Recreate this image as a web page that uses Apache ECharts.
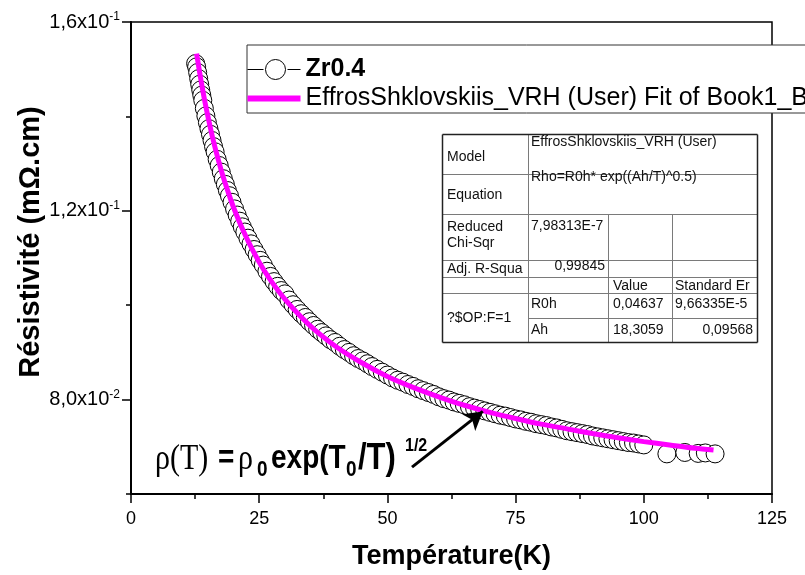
<!DOCTYPE html>
<html>
<head>
<meta charset="utf-8">
<script src="https://cdn.jsdelivr.net/npm/echarts@6/dist/echarts.min.js"></script>
<style>
html, body { margin: 0; padding: 0; background: #fff; }
#chart { width: 805px; height: 575px; }
</style>
</head>
<body>
<div id="chart"></div>
<script>
// Measured resistivity of the Zr0.4 sample
const temperature = [
  12.6, 12.8, 13.0, 13.2, 13.4, 13.6, 13.8, 14.0, 14.3, 14.6, 14.9, 15.2, 15.5, 15.8, 16.1, 16.4,
  16.8, 17.2, 17.6, 18.0, 18.4, 18.8, 19.2, 19.7, 20.2, 20.7, 21.2, 21.7, 22.2, 22.8, 23.4, 24.0,
  24.6, 25.2, 25.8, 26.5, 27.2, 27.9, 28.6, 29.3, 30.0, 30.8, 31.6, 32.4, 33.2, 34.0, 34.8, 35.6,
  36.4, 37.2, 38.0, 38.9, 39.8, 40.7, 41.6, 42.5, 43.4, 44.3, 45.2, 46.1, 47.0, 48.0, 49.0,
  50, 51, 52, 53, 54, 55, 56, 57, 58, 59, 60, 61, 62, 63, 64, 65, 66, 67, 68, 69, 70,
  71, 72, 73, 74, 75, 76, 77, 78, 79, 80, 81, 82, 83, 84, 85, 86, 87, 88, 89, 90,
  91, 92, 93, 94, 95, 96, 97, 98, 99, 100, 104.5, 108.0, 110.6, 112.0, 113.9
];
const resistivity = [
  0.1512, 0.1505, 0.1493, 0.1480, 0.1468, 0.1456, 0.1445, 0.1434, 0.1417, 0.1401, 0.1387, 0.1374, 0.1362, 0.1349, 0.1336, 0.1325,
  0.1309, 0.1296, 0.1282, 0.1268, 0.1256, 0.1243, 0.1232, 0.1218, 0.1204, 0.1191, 0.1178, 0.1166, 0.1155, 0.1142, 0.1130, 0.1118,
  0.1107, 0.1095, 0.1085, 0.1072, 0.1061, 0.1050, 0.1040, 0.1031, 0.1024, 0.1011, 0.1001, 0.0991, 0.0982, 0.0974, 0.0965, 0.0957,
  0.0949, 0.0942, 0.0935, 0.0927, 0.0921, 0.0913, 0.0906, 0.0900, 0.0893, 0.0887, 0.0882, 0.0876, 0.0870, 0.0864, 0.0858,
  0.0852, 0.0846, 0.0841, 0.0837, 0.0832, 0.0828, 0.0823, 0.0819, 0.0815, 0.0811, 0.0806, 0.0802, 0.0799, 0.0795, 0.0792, 0.0789, 0.0785, 0.0782, 0.0779, 0.0776, 0.0773,
  0.0770, 0.0767, 0.0765, 0.0762, 0.0759, 0.0757, 0.0754, 0.0752, 0.0749, 0.0747, 0.0745, 0.0742, 0.0740, 0.0737, 0.0734, 0.0732, 0.0730, 0.0728, 0.0726, 0.0723,
  0.0721, 0.0719, 0.0717, 0.0715, 0.0713, 0.0711, 0.0709, 0.0708, 0.0706, 0.0704, 0.0685, 0.0688, 0.0686, 0.0687, 0.0685
];

// Efros-Shklovskii VRH fit curve
const fitTemperature = [
  12.8, 13.0, 13.5, 14.0, 14.5, 15.0, 16.0, 17.0, 18.0, 19.0, 20.0, 22.0, 24.0, 26.0, 28.0, 30.0, 33.0,
  36.0, 40.0, 45.0, 50.0, 55.0, 60.0, 65.0, 70.0, 75.0, 80.0, 85.0, 90.0, 95.0, 100.0, 105.0, 110.0, 113.6
];
const fitResistivity = [
  0.1533, 0.1519, 0.1486, 0.1455, 0.1426, 0.1400, 0.1351, 0.1309, 0.1271, 0.1238, 0.1207, 0.1155, 0.1111, 0.1073, 0.1041, 0.1013, 0.0977,
  0.0946, 0.0912, 0.0878, 0.0849, 0.0826, 0.0806, 0.0788, 0.0773, 0.0760, 0.0748, 0.0738, 0.0728, 0.0719, 0.0711, 0.0704, 0.0697, 0.0693
];

const seriesNames = ['Zr0.4', 'EffrosShklovskiis_VRH (User) Fit of Book1_B'];

// Axis ticks
const xTickValues = [0, 25, 50, 75, 100, 125];
const yMajorTicks = [0.08, 0.12, 0.16];
const yMinorTicks = [0.06, 0.10, 0.14];
const yTickMantissa = ['8,0', '1,2', '1,6'];
const yTickExponent = ['-2', '-1', '-1'];

// Arrow pointing at the fitted curve (data coordinates)
const arrowFrom = [54.8, 0.0657];
const arrowTo = [68.6, 0.0775];

// Fit report table
const tableModel = 'EffrosShklovskiis_VRH (User)';
const tableEquation = 'Rho=R0h* exp((Ah/T)^0.5)';
const tableChiSqr = '7,98313E-7';
const tableAdjR2 = '0,99845';
const tableParams = [['R0h', '0,04637', '9,66335E-5'], ['Ah', '18,3059', '0,09568']];

const SANS = "'Liberation Sans', Arial, Helvetica, sans-serif";
const SERIF = "'Liberation Serif', 'Times New Roman', serif";

const chart = echarts.init(document.getElementById('chart'), null, { renderer: 'canvas' });

// Fit report drawn as a bordered table
function buildTable() {
  const x0 = 442.5, x1 = 528.5, x2 = 608.5, x3 = 672.5, xR = 757.5;
  const y0 = 134.5, r1 = 174.5, r2 = 214.5, r3 = 260.5, r4 = 277.5, r5 = 293.5, r6 = 318.5, yB = 342.5;
  const grey = '#7a7a7a';
  const children = [];
  const line = (ax, ay, bx, by, c, w) => children.push({
    type: 'line', shape: { x1: ax, y1: ay, x2: bx, y2: by }, style: { stroke: c || grey, lineWidth: w || 1 }
  });
  children.push({ type: 'rect', shape: { x: x0, y: y0, width: xR - x0, height: yB - y0 }, style: { fill: '#fff', stroke: null } });
  [r1, r2, r3, r4, r5].forEach(y => line(x0, y, xR, y));
  line(x1, r6, xR, r6);
  line(x1, y0, x1, yB);
  line(x2, r2, x2, yB);
  line(x3, r2, x3, yB);
  line(x0, y0, xR, y0, '#222', 1.5);
  line(x0, yB, xR, yB, '#222', 1.5);
  line(x0, y0, x0, yB, '#222', 1.5);
  line(xR, y0, xR, yB, '#222', 1.5);
  const txt = (s, x, y, align) => children.push({
    type: 'text', x: x, y: y,
    style: { text: s, font: '14px ' + SANS, fill: '#111', align: align || 'left', verticalAlign: 'middle' }
  });
  txt('Model', 447, 157);
  txt(tableModel, 531, 142);
  txt('Equation', 447, 195);
  txt(tableEquation, 531, 177);
  txt('Reduced', 447, 227);
  txt('Chi-Sqr', 447, 243);
  txt(tableChiSqr, 531, 226);
  txt('Adj. R-Squa', 447, 269);
  txt(tableAdjR2, 605, 266, 'right');
  txt('Value', 613, 286);
  txt('Standard Er', 675, 286);
  txt('?$OP:F=1', 447, 318);
  txt(tableParams[0][0], 531, 304);
  txt(tableParams[0][1], 613, 304);
  txt(tableParams[0][2], 675, 304);
  txt(tableParams[1][0], 531, 330);
  txt(tableParams[1][1], 613, 330);
  txt(tableParams[1][2], 753, 330, 'right');
  return { type: 'group', z: 50, children: children };
}

// Equation label rho(T) = rho0 exp(T0/T)^(1/2)
function buildFormula() {
  const base = 470;
  const part = (s, x, font, dy) => ({
    type: 'text', x: x, y: dy || 0,
    style: { text: s, font: font, fill: '#000', verticalAlign: 'bottom' }
  });
  return {
    type: 'group', z: 60, x: 0, y: base, scaleY: 1.2,
    children: [
      part('ρ(T)', 155, '30px ' + SERIF, 6),
      part('=', 218, 'bold 28px ' + SANS, 5),
      part('ρ', 238, '30px ' + SERIF, 6),
      part('0', 257, 'bold 19px ' + SANS, 9),
      part('exp(T', 271, 'bold 28px ' + SANS, 5),
      part('0', 346, 'bold 19px ' + SANS, 9),
      part('/T)', 358, 'bold 31px ' + SANS, 6),
      part('1/2', 405, 'bold 16px ' + SANS, -12)
    ]
  };
}

const option = {
  animation: false,
  backgroundColor: '#fff',
  textStyle: { fontFamily: SANS },
  grid: { left: 131, right: 33, top: 22, bottom: 78, show: true, borderColor: '#000', borderWidth: 1.5, backgroundColor: 'transparent' },
  legend: {
    orient: 'vertical', left: 247, top: 45, padding: [12, 10, 2, 0], itemGap: 4,
    itemWidth: 53, itemHeight: 20, selectedMode: false,
    borderColor: '#333', borderWidth: 1, backgroundColor: '#fff',
    textStyle: { fontSize: 25, color: '#000', fontFamily: SANS },
    data: [
      { name: seriesNames[0], icon: 'path://M0,10 L16,10 M18,10 A10,10 0 1 1 38,10 A10,10 0 1 1 18,10 M40,10 L53,10',
        itemStyle: { color: '#fff', borderColor: '#000', borderWidth: 1 }, textStyle: { fontWeight: 'bold' } },
      { name: seriesNames[1], icon: 'path://M0,0 M53,20 M0,7 L53,7 L53,13 L0,13 Z',
        itemStyle: { color: '#ff00ff', borderWidth: 0 } }
    ]
  },
  xAxis: {
    type: 'value', min: xTickValues[0], max: xTickValues[xTickValues.length - 1], interval: 25,
    name: 'Température(K)', nameLocation: 'middle', nameGap: 49,
    nameTextStyle: { fontSize: 27, fontWeight: 'bold', color: '#000', fontFamily: SANS },
    axisLine: { onZero: false, lineStyle: { color: '#000', width: 2 } },
    axisTick: { length: 9, lineStyle: { color: '#000', width: 1.5 } },
    minorTick: { show: true, splitNumber: 2, length: 5, lineStyle: { color: '#000', width: 1.5 } },
    axisLabel: { fontSize: 18, color: '#000', margin: 16, fontFamily: SANS },
    splitLine: { show: false }
  },
  yAxis: [
    {
      type: 'value', min: 0.06, max: 0.16, position: 'left',
      name: 'Résistivité (mΩ.cm)', nameLocation: 'middle', nameGap: 86, nameRotate: 90, nameMoveOverlap: false,
      nameTextStyle: { fontSize: 29, fontWeight: 'bold', color: '#000', fontFamily: SANS, padding: [0, 0, 0, 32] },
      axisLine: { onZero: false, lineStyle: { color: '#000', width: 2 } },
      axisTick: { length: 9, customValues: yMajorTicks, lineStyle: { color: '#000', width: 1.5 } },
      axisLabel: {
        customValues: yMajorTicks, margin: 11,
        formatter: function (v) {
          const i = yMajorTicks.findIndex(t => Math.abs(t - v) < 1e-9);
          return i < 0 ? '' : '{m|' + yTickMantissa[i] + 'x10}{e|' + yTickExponent[i] + '}';
        },
        rich: {
          m: { fontSize: 20, color: '#000', fontFamily: SANS, lineHeight: 22 },
          e: { fontSize: 12, color: '#000', fontFamily: SANS, verticalAlign: 'top', lineHeight: 12 }
        }
      },
      splitLine: { show: false }
    },
    {
      type: 'value', min: 0.06, max: 0.16, position: 'left',
      axisLine: { show: false },
      axisTick: { length: 5, customValues: yMinorTicks, lineStyle: { color: '#000', width: 1.5 } },
      axisLabel: { show: false },
      splitLine: { show: false }
    }
  ],
  graphic: [buildTable(), buildFormula()],
  series: [
    {
      name: seriesNames[0], type: 'scatter', z: 2,
      symbol: 'circle', symbolSize: 18,
      itemStyle: { color: '#fff', borderColor: '#000', borderWidth: 1, opacity: 1 },
      data: temperature.map((t, i) => [t, resistivity[i]])
    },
    {
      name: seriesNames[1], type: 'line', z: 3, color: '#ff00ff',
      symbol: 'none', smooth: 0.3,
      lineStyle: { color: '#ff00ff', width: 5 },
      data: fitTemperature.map((t, i) => [t, fitResistivity[i]]),
      markLine: {
        silent: true, symbol: ['none', 'arrow'], symbolSize: [16, 18],
        lineStyle: { color: '#000', width: 3, type: 'solid' },
        label: { show: false },
        data: [[{ coord: arrowFrom }, { coord: arrowTo }]]
      }
    }
  ]
};

chart.setOption(option);
</script>
</body>
</html>
